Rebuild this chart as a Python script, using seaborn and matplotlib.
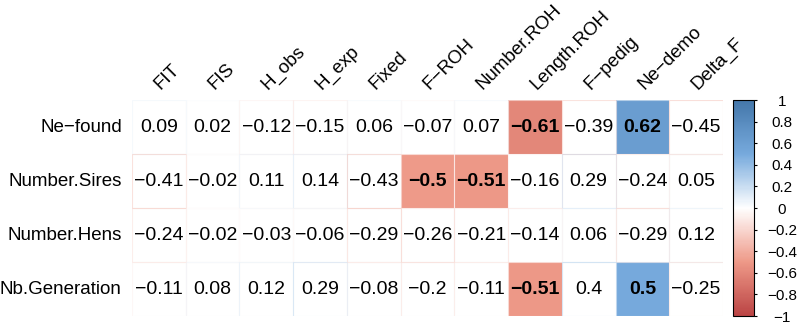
import numpy as np
import pandas as pd
import matplotlib
matplotlib.use("Agg")
import matplotlib.pyplot as plt
from matplotlib.colors import LinearSegmentedColormap
from matplotlib.patches import Rectangle
import seaborn as sns

rows = ["Ne−found", "Number.Sires", "Number.Hens", "Nb.Generation"]
cols = ["FIT", "FIS", "H_obs", "H_exp", "Fixed", "F−ROH", "Number.ROH",
        "Length.ROH", "F−pedig", "Ne−demo", "Delta_F"]

ne_found = [0.09, 0.02, -0.12, -0.15, 0.06, -0.07, 0.07, -0.61, -0.39, 0.62, -0.45]
number_sires = [-0.41, -0.02, 0.11, 0.14, -0.43, -0.5, -0.51, -0.16, 0.29, -0.24, 0.05]
number_hens = [-0.24, -0.02, -0.03, -0.06, -0.29, -0.26, -0.21, -0.14, 0.06, -0.29, 0.12]
nb_generation = [-0.11, 0.08, 0.12, 0.29, -0.08, -0.2, -0.11, -0.51, 0.4, 0.5, -0.25]

sig_ne_found = [0, 0, 0, 0, 0, 0, 0, 1, 0, 1, 0]
sig_number_sires = [0, 0, 0, 0, 0, 1, 1, 0, 0, 0, 0]
sig_number_hens = [0] * 11
sig_nb_generation = [0, 0, 0, 0, 0, 0, 0, 1, 0, 1, 0]

cbar_ticks = [-1, -0.8, -0.6, -0.4, -0.2, 0, 0.2, 0.4, 0.6, 0.8, 1]

df = pd.DataFrame([ne_found, number_sires, number_hens, nb_generation], index=rows, columns=cols)
sig = np.array([sig_ne_found, sig_number_sires, sig_number_hens, sig_nb_generation], dtype=bool)

cmap = LinearSegmentedColormap.from_list(
    "corr", ["#BB4444", "#EE9988", "#FFFFFF", "#77AADD", "#4477AA"], N=200)

plt.rcParams['font.family'] = ['Liberation Sans', 'DejaVu Sans']

W, H = 797, 325
fig = plt.figure(figsize=(W / 100, H / 100), dpi=100)
ax = fig.add_axes([132 / W, 1 - 316 / H, (723 - 132) / W, (316 - 100) / H])
cax = fig.add_axes([733 / W, 1 - 316 / H, 21 / W, (316 - 100) / H])

sns.heatmap(df, ax=ax, cmap=cmap, vmin=-1, vmax=1, cbar=True, cbar_ax=cax,
            xticklabels=False, yticklabels=False, linewidths=0)

def fmt(v):
    return f"{v:g}".replace("-", "−")

nr, nc = df.shape
for i in range(nr):
    for j in range(nc):
        v = df.iloc[i, j]
        col = cmap((v + 1) / 2)
        if not sig[i, j]:
            ax.add_patch(Rectangle((j, i), 1, 1, facecolor="white",
                                   edgecolor="none", zorder=2))
            ax.add_patch(Rectangle((j, i), 1, 1, facecolor="none",
                                   edgecolor=col, alpha=0.35, lw=0.8, zorder=2.1))
        else:
            ax.add_patch(Rectangle((j, i), 1, 1, facecolor="none",
                                   edgecolor="white", alpha=0.5, lw=0.8, zorder=2.1))
        ax.text(j + 0.5, i + 0.5, fmt(v), ha="center", va="center",
                fontsize=14, fontweight="bold" if sig[i, j] else "normal",
                color="black", zorder=3)

for i, r in enumerate(rows):
    ax.text(-0.19, i + 0.5, r, ha="right", va="center", fontsize=13.5)
for j, c in enumerate(cols):
    ax.text(j + 0.53, -0.19, c, ha="left", va="baseline", rotation=45,
            rotation_mode="anchor", fontsize=13.5)

ax.set_xlabel("")
ax.set_ylabel("")
ax.tick_params(left=False, bottom=False)
for s in ax.spines.values():
    s.set_visible(False)

cax.set_yticks(cbar_ticks)
cax.set_yticklabels([fmt(t) for t in cbar_ticks], fontsize=11)
cax.tick_params(axis="y", length=2.2, width=0.8, pad=18, right=True, left=False)
for lab in cax.get_yticklabels():
    lab.set_horizontalalignment("center")
cb = ax.collections[0].colorbar
cb.outline.set_visible(True)
cb.outline.set_linewidth(0.8)
cb.outline.set_edgecolor("black")

fig.savefig("out.png", dpi=100)
